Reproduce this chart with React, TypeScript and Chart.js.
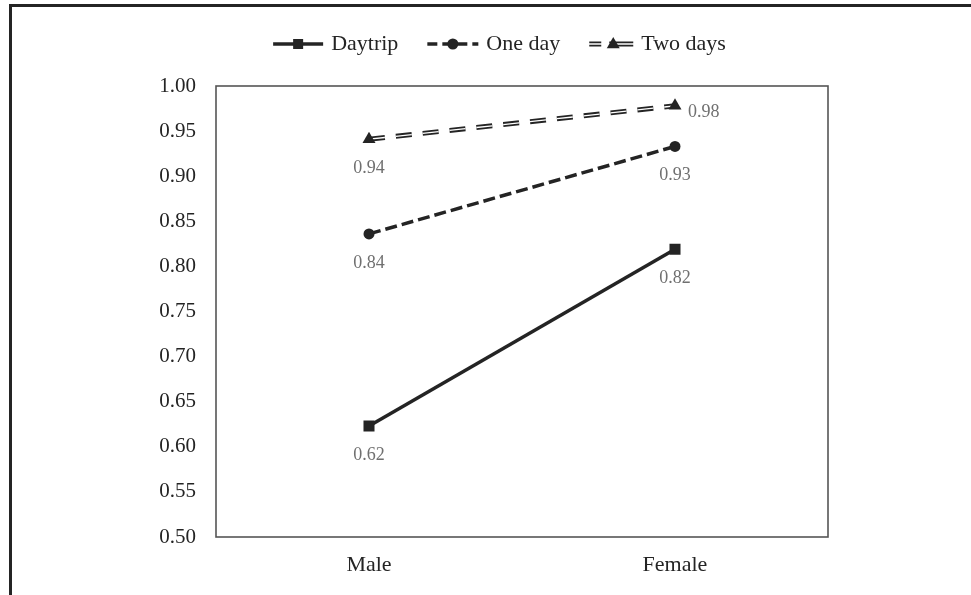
import React, { useEffect, useRef } from "react";
import { Chart, registerables } from "chart.js";

Chart.register(...registerables);

// ---- data ----
const categories = ["Male", "Female"];
const seriesNames = ["Daytrip", "One day", "Two days"];
const daytrip = [0.623, 0.819];
const oneDay = [0.836, 0.933];
const twoDays = [0.941, 0.978];
const yMin = 0.5;
const yMax = 1.0;
const yStep = 0.05;

const FONT = '"Liberation Serif", "DejaVu Serif", serif';
const INK = "#242424";
const LABEL_GRAY = "#707070";

const W = 971;
const H = 595;

const plotFramePlugin = {
  id: "plotFrame",
  beforeDatasetsDraw(chart: any) {
    const { ctx, chartArea } = chart;
    ctx.save();
    ctx.strokeStyle = "#555";
    ctx.lineWidth = 1.6;
    ctx.strokeRect(chartArea.left, chartArea.top, chartArea.right - chartArea.left, chartArea.bottom - chartArea.top);
    ctx.restore();
  },
};

const valueLabelPlugin = {
  id: "valueLabels",
  afterDatasetsDraw(chart: any) {
    const { ctx } = chart;
    ctx.save();
    ctx.font = `18px ${FONT}`;
    ctx.fillStyle = LABEL_GRAY;
    chart.data.datasets.forEach((ds: any, di: number) => {
      if (!ds.showValues) return;
      const meta = chart.getDatasetMeta(di);
      meta.data.forEach((pt: any, i: number) => {
        const v = ds.data[i] as number;
        const txt = v.toFixed(2);
        if (ds.label === "Two days" && i === categories.length - 1) {
          ctx.textAlign = "left";
          ctx.textBaseline = "middle";
          ctx.fillText(txt, pt.x + 13, pt.y + 6);
        } else {
          ctx.textAlign = "center";
          ctx.textBaseline = "middle";
          ctx.fillText(txt, pt.x, pt.y + 29);
        }
      });
    });
    ctx.restore();
  },
};

function drawSquare(ctx: CanvasRenderingContext2D, x: number, y: number, s: number) {
  ctx.fillRect(x - s / 2, y - s / 2, s, s);
}
function drawCircle(ctx: CanvasRenderingContext2D, x: number, y: number, r: number) {
  ctx.beginPath();
  ctx.arc(x, y, r, 0, Math.PI * 2);
  ctx.fill();
}
function drawTriangle(ctx: CanvasRenderingContext2D, x: number, y: number, r: number) {
  ctx.beginPath();
  ctx.moveTo(x, y - r);
  ctx.lineTo(x + r * 0.866, y + r * 0.5);
  ctx.lineTo(x - r * 0.866, y + r * 0.5);
  ctx.closePath();
  ctx.fill();
}

const legendPlugin = {
  id: "customLegend",
  afterDraw(chart: any) {
    const ctx: CanvasRenderingContext2D = chart.ctx;
    ctx.save();
    ctx.font = `22px ${FONT}`;
    const lineWs = [50, 51, 44];
    const gapText = 8;
    const gapItem = 29;
    const widths = seriesNames.map((n, i) => lineWs[i] + gapText + ctx.measureText(n).width);
    const total = widths.reduce((a, b) => a + b, 0) + gapItem * (seriesNames.length - 1);
    let x = chart.width / 2 + 14 - total / 2;
    const y = 44;
    seriesNames.forEach((name, i) => {
      const x0 = x;
      const x1 = x + lineWs[i];
      const mid = (x0 + x1) / 2;
      ctx.strokeStyle = INK;
      ctx.fillStyle = INK;
      if (i === 0) {
        ctx.setLineDash([]);
        ctx.lineWidth = 3.5;
        ctx.beginPath();
        ctx.moveTo(x0, y);
        ctx.lineTo(x1, y);
        ctx.stroke();
        drawSquare(ctx, mid, y, 10);
      } else if (i === 1) {
        ctx.setLineDash([10, 5]);
        ctx.lineWidth = 3.5;
        ctx.beginPath();
        ctx.moveTo(x0, y);
        ctx.lineTo(x1, y);
        ctx.stroke();
        ctx.setLineDash([]);
        drawCircle(ctx, mid, y, 5.5);
      } else {
        ctx.setLineDash([]);
        ctx.lineWidth = 5;
        ctx.beginPath();
        ctx.moveTo(x0, y);
        ctx.lineTo(x0 + 12, y);
        ctx.moveTo(x0 + 20, y);
        ctx.lineTo(x1, y);
        ctx.stroke();
        ctx.strokeStyle = "#fff";
        ctx.lineWidth = 1.3;
        ctx.beginPath();
        ctx.moveTo(x0 - 1, y);
        ctx.lineTo(x1 + 1, y);
        ctx.stroke();
        ctx.fillStyle = INK;
        drawTriangle(ctx, x0 + 24, y + 0.5, 7.5);
      }
      ctx.fillStyle = INK;
      ctx.textAlign = "left";
      ctx.textBaseline = "middle";
      ctx.fillText(name, x1 + gapText, y);
      x += widths[i] + gapItem;
    });
    ctx.restore();
  },
};

export default function App() {
  const ref = useRef<HTMLCanvasElement | null>(null);

  useEffect(() => {
    if (!ref.current) return;
    const chart = new Chart(ref.current, {
      type: "line",
      data: {
        labels: categories,
        datasets: [
          {
            label: "Two days",
            data: twoDays,
            showLine: false,
            pointStyle: "triangle",
            pointRadius: 7.5,
            pointBackgroundColor: INK,
            pointBorderColor: INK,
            pointBorderWidth: 0,
            order: 0,
            showValues: true,
          } as any,
          {
            label: "Two days inner",
            data: twoDays,
            borderColor: "#ffffff",
            borderWidth: 1.3,
            borderDash: [16, 11],
            pointRadius: 0,
            order: 1,
          } as any,
          {
            label: "Two days outer",
            data: twoDays,
            borderColor: INK,
            borderWidth: 5,
            borderDash: [16, 11],
            pointRadius: 0,
            order: 2,
          } as any,
          {
            label: "One day",
            data: oneDay,
            borderColor: INK,
            borderWidth: 3.5,
            borderDash: [12, 5],
            pointStyle: "circle",
            pointRadius: 5.5,
            pointBackgroundColor: INK,
            pointBorderColor: INK,
            pointBorderWidth: 0,
            order: 3,
            showValues: true,
          } as any,
          {
            label: "Daytrip",
            data: daytrip,
            borderColor: INK,
            borderWidth: 3.5,
            pointStyle: "rect",
            pointRadius: 7.8,
            pointBackgroundColor: INK,
            pointBorderColor: INK,
            pointBorderWidth: 0,
            order: 4,
            showValues: true,
          } as any,
        ],
      },
      options: {
        responsive: false,
        animation: false,
        layout: { padding: { left: 0, top: 86, right: 143, bottom: 0 } },
        plugins: {
          legend: { display: false },
          tooltip: { enabled: false },
          title: { display: false },
        },
        scales: {
          x: {
            type: "category",
            offset: true,
            grid: { display: false, drawTicks: false },
            border: { display: false },
            ticks: { color: INK, font: { family: FONT, size: 22 }, padding: 15 },
            afterFit: (scale: any) => {
              scale.height = 58;
            },
          },
          y: {
            min: yMin,
            max: yMax,
            grid: { display: false, drawTicks: false },
            border: { display: false },
            ticks: {
              stepSize: yStep,
              color: INK,
              padding: 20,
              font: { family: FONT, size: 21 },
              callback: (v: any) => Number(v).toFixed(2),
            },
            afterFit: (scale: any) => {
              scale.width = 216;
            },
          },
        },
      },
      plugins: [plotFramePlugin, valueLabelPlugin, legendPlugin],
    });
    return () => chart.destroy();
  }, []);

  return (
    <div style={{ position: "fixed", left: 0, top: 0, width: W, height: H, background: "#fff" }}>
      <div
        style={{
          position: "absolute",
          left: 9,
          top: 4,
          width: W - 9,
          height: H - 4,
          boxSizing: "border-box",
          borderTop: `3px solid ${INK}`,
          borderLeft: `3px solid ${INK}`,
        }}
      />
      <canvas ref={ref} width={W} height={H} style={{ position: "absolute", left: 0, top: 0, width: W, height: H }} />
    </div>
  );
}
